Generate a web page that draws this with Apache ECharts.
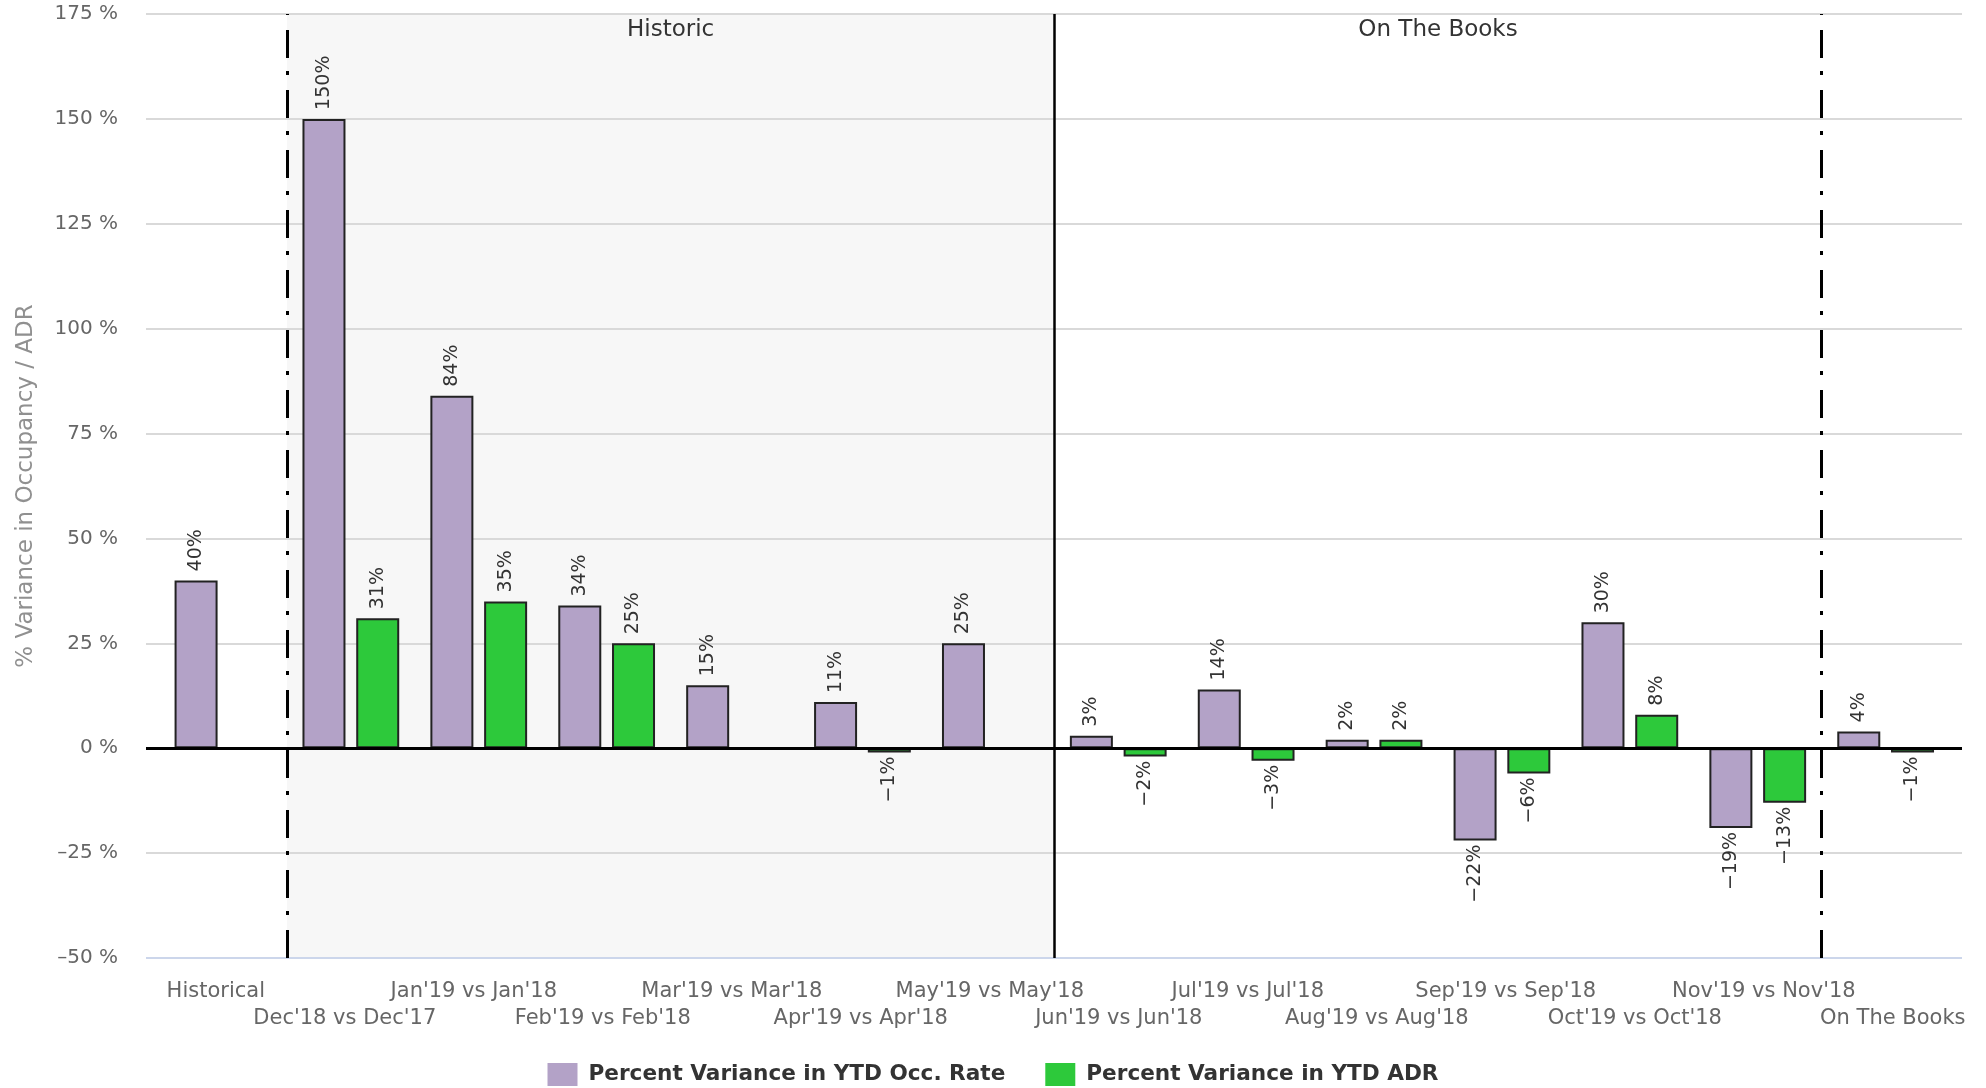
<!DOCTYPE html>
<html>
<head>
<meta charset="utf-8">
<title>YTD Variance</title>
<script src="https://cdn.jsdelivr.net/npm/echarts@6/dist/echarts.min.js"></script>
<style>
  html, body { margin: 0; padding: 0; background: #fff; }
  #chart { width: 1986px; height: 1088px; }
</style>
</head>
<body>
<div id="chart"></div>
<script>
// Period labels along the x axis
const categories = [
  'Historical', "Dec'18 vs Dec'17", "Jan'19 vs Jan'18", "Feb'19 vs Feb'18",
  "Mar'19 vs Mar'18", "Apr'19 vs Apr'18", "May'19 vs May'18", "Jun'19 vs Jun'18",
  "Jul'19 vs Jul'18", "Aug'19 vs Aug'18", "Sep'19 vs Sep'18", "Oct'19 vs Oct'18",
  "Nov'19 vs Nov'18", 'On The Books'
];

// Percent variance values (null = no value for that period)
const occRate = [40, 150, 84, 34, 15, 11, 25, 3, 14, 2, -22, 30, -19, 4];
const adr = [null, 31, 35, 25, null, -1, null, -2, -3, 2, -6, 8, -13, -1];

const seriesNames = ['Percent Variance in YTD Occ. Rate', 'Percent Variance in YTD ADR'];

// Y axis range and tick step
const yMin = -50, yMax = 175, yStep = 25;

// Period sections (category boundaries) and divider lines
const sectionNames = ['Historic', 'On The Books'];
const sectionFrom = [1, 7];
const sectionTo = [7, 13];
const dashDotAt = [1, 13];
const solidAt = [7];

// ---- layout ----
const W = 1986, H = 1088;
const PLOT_L = 146, PLOT_R = 1962;      // gridline extent
const BAR_L = 159, CAT_W = 127.9;       // category band start and width
const BAR_R = BAR_L + CAT_W * categories.length;
const LABEL_X0 = 215.8, LABEL_STEP = 129; // axis label centres
const TOP = 14, BOTTOM = 958;
const bgMin = (PLOT_L - BAR_L) / CAT_W;
const bgMax = (PLOT_R - BAR_L) / CAT_W;

const FONT = 'DejaVu Sans';
const PURPLE = '#b3a2c7';
const GREEN = '#2dc93b';

const fmtPct = v => (v < 0 ? '\u2212' + Math.abs(v) : String(v)) + '%';

function barData(values) {
  return values.map(v => {
    if (v === null) return null;
    const pos = v >= 0;
    return {
      value: v,
      label: {
        position: pos ? 'top' : 'bottom',
        align: pos ? 'left' : 'right',
        verticalAlign: 'middle',
        distance: pos ? 9 : 4
      }
    };
  });
}

// per-label horizontal nudge so the staggered labels sit on their own grid
const labelRich = {};
categories.forEach((c, i) => {
  const centre = BAR_L + CAT_W * (i + 0.5);
  const d = LABEL_X0 + LABEL_STEP * i - centre;
  labelRich['c' + i] = {
    fontFamily: FONT, fontSize: 21, color: '#666', lineHeight: 27,
    padding: d >= 0 ? [0, 0, 0, 2 * d] : [0, -2 * d, 0, 0]
  };
});

const gridColors = [];
for (let v = yMin; v <= yMax; v += yStep) gridColors.push(v === yMin ? '#ccd6eb' : '#d9d9d9');

const barLabel = {
  show: true,
  rotate: 90,
  fontFamily: FONT,
  fontSize: 19,
  color: '#333',
  formatter: p => fmtPct(p.value)
};

const option = {
  backgroundColor: '#fff',
  animation: false,
  grid: [
    { left: PLOT_L, right: W - PLOT_R, top: TOP, bottom: H - BOTTOM },
    { left: BAR_L, right: W - BAR_R, top: TOP, bottom: H - BOTTOM }
  ],
  xAxis: [
    {
      gridIndex: 0, type: 'value', min: bgMin, max: bgMax,
      axisLine: { show: false }, axisTick: { show: false },
      axisLabel: { show: false }, splitLine: { show: false }
    },
    {
      gridIndex: 1, type: 'category', data: categories,
      axisLine: { show: false }, axisTick: { show: false },
      axisLabel: {
        interval: 0,
        margin: 20,
        fontFamily: FONT,
        fontSize: 21,
        lineHeight: 27,
        color: '#666',
        rich: labelRich,
        formatter: (v, i) => (i % 2 === 1 ? '\n' : '') + '{c' + i + '|' + v + '}'
      }
    }
  ],
  yAxis: [
    {
      gridIndex: 0, type: 'value', min: yMin, max: yMax, interval: yStep, z: 1,
      name: '% Variance in Occupancy / ADR',
      nameLocation: 'middle',
      nameGap: 108,
      nameTextStyle: { fontFamily: FONT, fontSize: 23, color: '#909090' },
      axisLine: { show: false }, axisTick: { show: false },
      axisLabel: {
        margin: 28, fontFamily: FONT, fontSize: 20, color: '#666',
        formatter: v => (v < 0 ? '\u2013' + Math.abs(v) : v) + ' %'
      },
      splitLine: { show: true, lineStyle: { color: gridColors, width: 2 } }
    },
    {
      gridIndex: 1, type: 'value', min: yMin, max: yMax, interval: yStep,
      show: false, splitLine: { show: false }
    }
  ],
  legend: {
    data: seriesNames,
    left: 'center',
    top: 1058,
    icon: 'rect',
    itemWidth: 30,
    itemHeight: 23,
    itemGap: 40,
    itemStyle: { borderWidth: 0 },
    textStyle: {
      fontFamily: FONT, fontSize: 21.6, fontWeight: 'bold', color: '#333',
      padding: [0, 0, 0, 6]
    }
  },
  series: [
    {
      // section shading, divider lines and zero line
      type: 'line',
      xAxisIndex: 0, yAxisIndex: 0,
      data: [[bgMin, 0]],
      symbol: 'none',
      lineStyle: { width: 0 },
      silent: true,
      markArea: {
        silent: true,
        z: 0,
        label: {
          show: true, position: 'insideTop', distance: 5,
          fontFamily: FONT, fontSize: 23, color: '#333'
        },
        data: sectionNames.map((n, i) => [
          { xAxis: sectionFrom[i], name: n,
            itemStyle: { color: i === 0 ? '#f7f7f7' : 'rgba(255,255,255,0)' } },
          { xAxis: sectionTo[i] }
        ])
      },
      markLine: {
        silent: true,
        symbol: ['none', 'none'],
        label: { show: false },
        data: [
          ...dashDotAt.map(x => ({ xAxis: x, lineStyle: { color: '#000', width: 3, type: [28, 15, 4, 13] } })),
          ...solidAt.map(x => ({ xAxis: x, lineStyle: { color: '#000', width: 2.5, type: 'solid' } })),
          { yAxis: 0, lineStyle: { color: '#000', width: 3, type: 'solid' } }
        ]
      }
    },
    {
      name: seriesNames[0],
      type: 'bar',
      xAxisIndex: 1, yAxisIndex: 1,
      barWidth: 43,
      barGap: '25%',
      itemStyle: { color: PURPLE, borderColor: '#222', borderWidth: 2 },
      label: barLabel,
      data: barData(occRate)
    },
    {
      name: seriesNames[1],
      type: 'bar',
      xAxisIndex: 1, yAxisIndex: 1,
      barWidth: 43,
      barGap: '25%',
      itemStyle: { color: GREEN, borderColor: '#222', borderWidth: 2 },
      label: barLabel,
      data: barData(adr)
    }
  ]
};

const chart = echarts.init(document.getElementById('chart'), null, { renderer: 'canvas' });
chart.setOption(option);
</script>
</body>
</html>
